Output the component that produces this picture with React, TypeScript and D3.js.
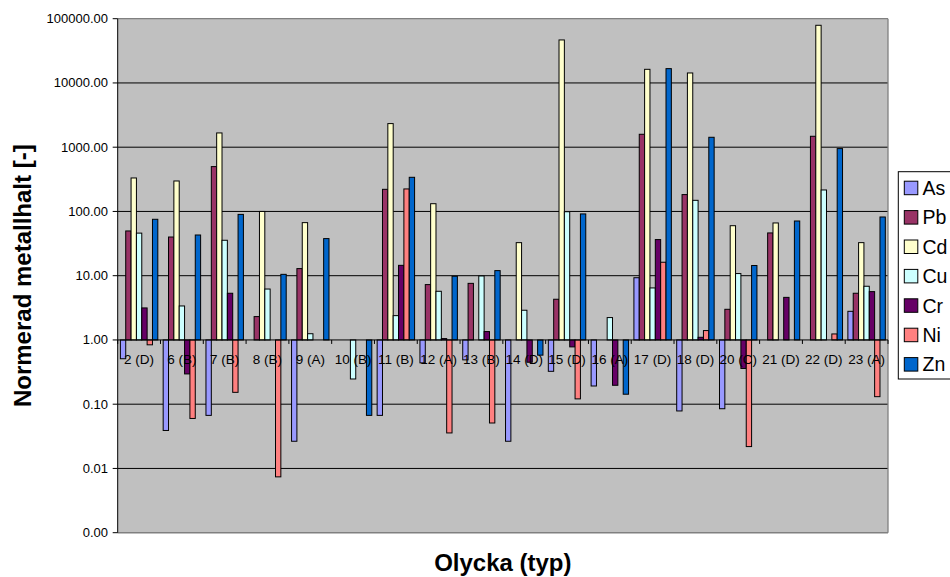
import React from "react";
import * as d3 from "d3";

const categories = ["2 (D)", "6 (B)", "7 (B)", "8 (B)", "9 (A)", "10 (B)", "11 (B)", "12 (A)", "13 (B)", "14 (D)", "15 (D)", "16 (A)", "17 (D)", "18 (D)", "20 (C)", "21 (D)", "22 (D)", "23 (A)"];

const asValues = [0.51, 0.039, 0.067, null, 0.0265, null, 0.067, 0.44, 0.49, 0.0265, 0.325, 0.192, 9.3, 0.0785, 0.085, null, null, 2.79];
const pbValues = [49.7, 40, 499, 2.31, 12.9, null, 221, 7.27, 7.6, null, 4.3, null, 1589, 183, 3.0, 46.3, 1479, 5.33];
const cdValues = [332, 298, 1667, 100, 67, null, 2330, 132, null, 32.7, 46700, null, 16300, 14300, 60, 66.2, 79000, 32.7];
const cuValues = [46, 3.38, 35.6, 6.2, 1.25, 0.247, 2.39, 5.72, 9.9, 2.9, 99, 2.23, 6.45, 149, 10.8, null, 216, 6.85];
const crValues = [3.15, 0.296, 5.33, null, null, null, 14.5, 1.05, 1.35, 0.45, 0.78, 0.197, 36.5, 1.1, 0.36, 4.6, null, 5.65];
const niValues = [0.84, 0.06, 0.153, 0.0074, null, null, 224, 0.0357, 0.051, null, 0.121, null, 16.2, 1.4, 0.0219, null, 1.24, 0.131];
const znValues = [75.5, 43, 90, 10.5, 37.8, 0.067, 340, 9.8, 12, 0.58, 91.5, 0.143, 16700, 1427, 14.4, 71, 951, 82];

const seriesNames = ["As", "Pb", "Cd", "Cu", "Cr", "Ni", "Zn"];
const seriesColors = ["#9999FF", "#993366", "#FFFFCC", "#CCFFFF", "#660066", "#FF8080", "#0066CC"];
const seriesValues = [asValues, pbValues, cdValues, cuValues, crValues, niValues, znValues];

const yTicks = [0.001, 0.01, 0.1, 1, 10, 100, 1000, 10000, 100000];

const W = 950;
const H = 577;
const left = 117.7;
const right = 888;
const top = 18.7;
const bottom = 532.7;
const FONT = "Arial, 'Liberation Sans', sans-serif";

export default function App() {
  const x = d3.scaleBand<string>().domain(categories).range([left, right]).padding(0);
  const xs = d3.scaleBand<string>().domain(seriesNames).range([0, x.bandwidth()]).paddingInner(0).paddingOuter(0.5);
  const y = d3.scaleLog().domain([0.001, 100000]).range([bottom, top]);
  const y1 = y(1);

  return (
    <svg width={W} height={H} style={{ position: "absolute", left: 0, top: 0, background: "#fff" }} fontFamily={FONT}>
      <rect x={left} y={top} width={right - left} height={bottom - top} fill="#C0C0C0" />
      {yTicks.filter((t) => t > 0.001 && t < 100000 && t !== 1).map((t) => (
        <line key={"g" + t} x1={left} x2={right} y1={y(t)} y2={y(t)} stroke="#000" strokeWidth={1} />
      ))}
      {/* plot border */}
      <line x1={left} x2={right} y1={top} y2={top} stroke="#808080" strokeWidth={1.3} />
      <line x1={right} x2={right} y1={top} y2={bottom} stroke="#808080" strokeWidth={1.3} />
      <line x1={left} x2={right} y1={bottom} y2={bottom} stroke="#808080" strokeWidth={1.6} />
      {/* bars */}
      {seriesValues.map((vals, si) =>
        vals.map((v, ci) => {
          if (v == null) return null;
          const bx = (x(categories[ci]) as number) + (xs(seriesNames[si]) as number);
          const yv = y(v);
          return (
            <rect
              key={si + "-" + ci}
              x={bx}
              y={Math.min(yv, y1)}
              width={xs.bandwidth()}
              height={Math.abs(yv - y1)}
              fill={seriesColors[si]}
              stroke="#000"
              strokeWidth={1}
            />
          );
        })
      )}
      {/* category axis */}
      <line x1={left} x2={right} y1={y1} y2={y1} stroke="#000" strokeWidth={1} />
      {categories.map((c, i) => (
        <line key={"ct" + i} x1={x(c) as number} x2={x(c) as number} y1={y1} y2={y1 + 4} stroke="#000" strokeWidth={1} />
      ))}
      <line x1={right} x2={right} y1={y1} y2={y1 + 4} stroke="#000" strokeWidth={1} />
      {categories.map((c) => (
        <text key={"cl" + c} x={(x(c) as number) + x.bandwidth() / 2} y={y1 + 24} fontSize={13.5} textAnchor="middle" fill="#000">
          {c}
        </text>
      ))}
      {/* value axis */}
      <line x1={left} x2={left} y1={top} y2={bottom} stroke="#000" strokeWidth={1} />
      {yTicks.map((t) => (
        <g key={"yt" + t}>
          <line x1={left - 5} x2={left} y1={y(t)} y2={y(t)} stroke="#000" strokeWidth={1} />
          <text x={108} y={y(t) + 4.5} fontSize={13} textAnchor="end" fill="#000">
            {t.toFixed(2)}
          </text>
        </g>
      ))}
      {/* titles */}
      <text x={(left + right) / 2} y={571} fontSize={24} fontWeight="bold" textAnchor="middle" fill="#000">
        Olycka (typ)
      </text>
      <text
        transform={`translate(${31},${(top + bottom) / 2}) rotate(-90)`}
        fontSize={24}
        fontWeight="bold"
        textAnchor="middle"
        fill="#000"
      >
        Normerad metallhalt [-]
      </text>
      {/* legend */}
      <rect x={898.3} y={171.7} width={70} height={207.3} fill="#fff" stroke="#000" strokeWidth={1} />
      {seriesNames.map((s, i) => {
        const cy = 188 + i * 29.4;
        return (
          <g key={"lg" + s}>
            <rect x={904.3} y={cy - 6.8} width={13.5} height={13.5} fill={seriesColors[i]} stroke="#000" strokeWidth={1} />
            <text x={922.5} y={cy + 7} fontSize={19.5} fill="#000">
              {s}
            </text>
          </g>
        );
      })}
    </svg>
  );
}
